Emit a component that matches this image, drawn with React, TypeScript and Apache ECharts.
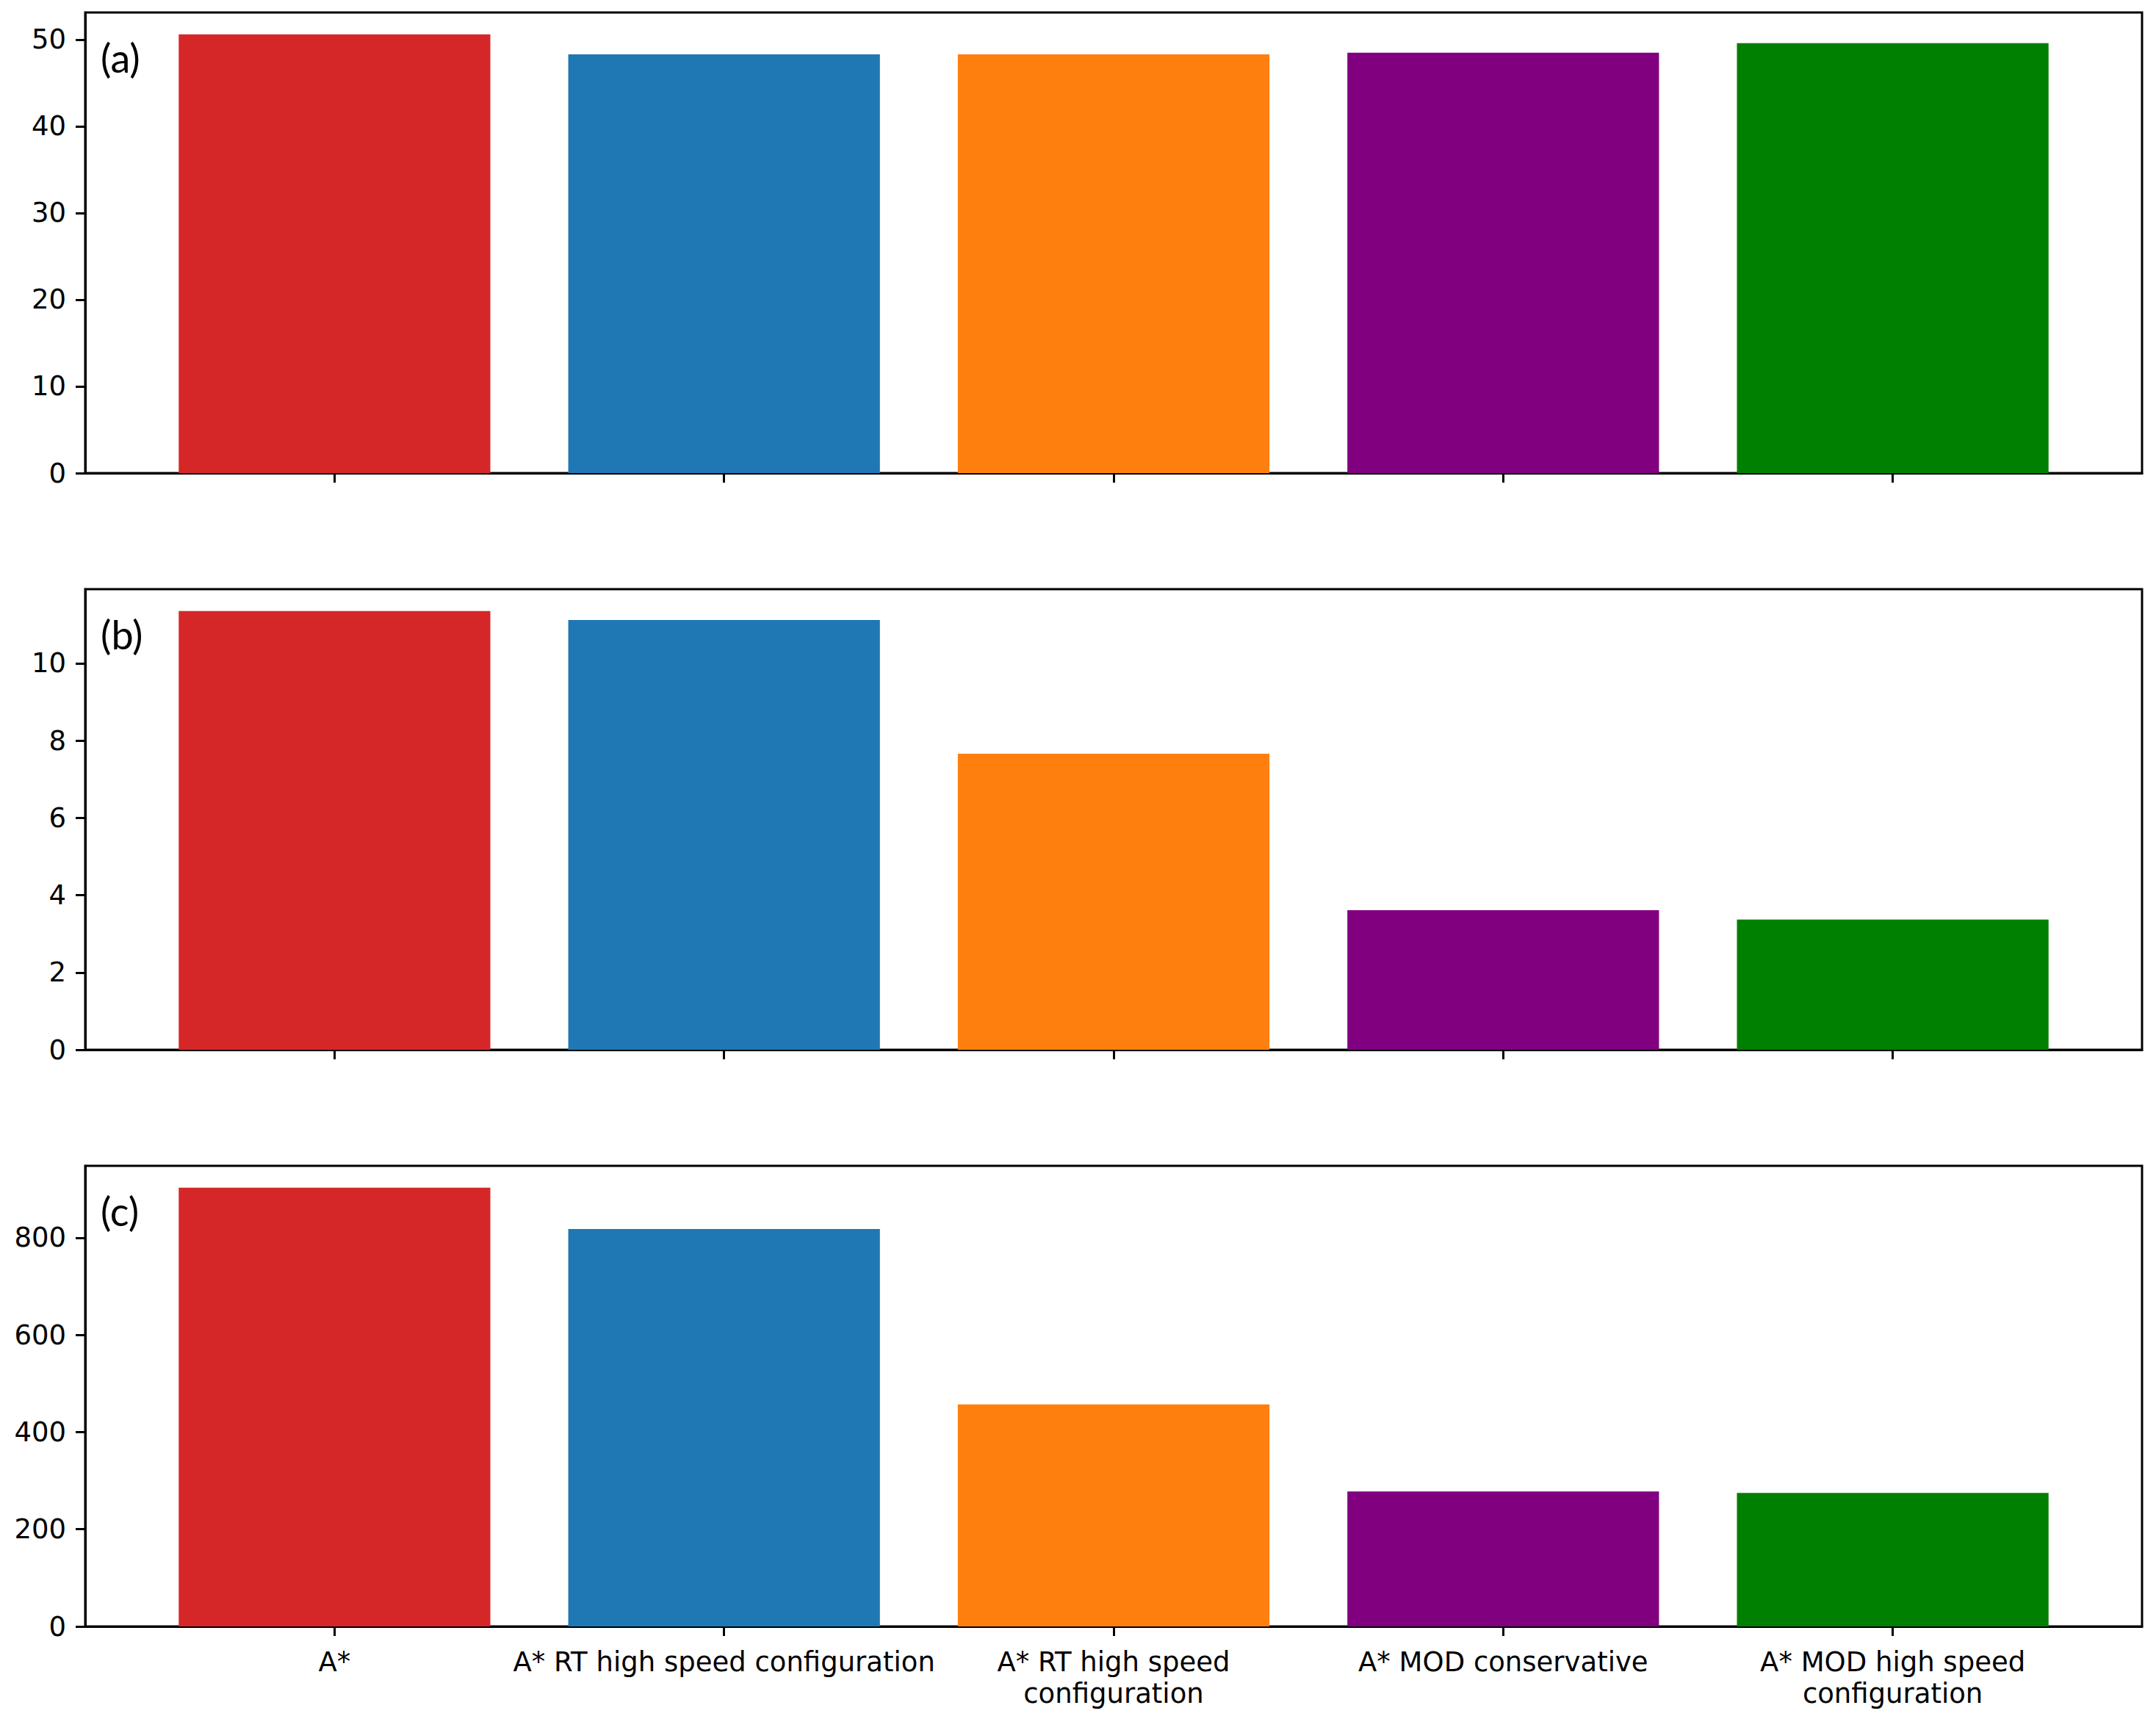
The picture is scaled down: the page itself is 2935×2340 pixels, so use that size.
import React, { useEffect, useRef } from "react";
import * as echarts from "echarts";

const categories = [
  "A*",
  "A* RT high speed configuration",
  "A* RT high speed\nconfiguration",
  "A* MOD conservative",
  "A* MOD high speed\nconfiguration",
];
const barColors = ["#d62728", "#1f77b4", "#ff7f0e", "#800080", "#008000"];

const valuesA = [50.6, 48.3, 48.3, 48.5, 49.6];
const valuesB = [11.35, 11.12, 7.66, 3.61, 3.37];
const valuesC = [903, 818, 457, 278, 275];

const ticksA = [0, 10, 20, 30, 40, 50];
const ticksB = [0, 2, 4, 6, 8, 10];
const ticksC = [0, 200, 400, 600, 800];

const panelLabels = ["(a)", "(b)", "(c)"];

const W = 2935;
const H = 2340;

export default function App() {
  const ref = useRef<HTMLDivElement>(null);
  useEffect(() => {
    if (!ref.current) return;
    const chart = echarts.init(ref.current, null, { renderer: "svg", width: W, height: H });
    const panels = [
      { values: valuesA, ticks: ticksA, top: 17, showLabels: false },
      { values: valuesB, ticks: ticksB, top: 802, showLabels: false },
      { values: valuesC, ticks: ticksC, top: 1587, showLabels: true },
    ];
    const gridLeft = 116;
    const gridWidth = 2800;
    const gridHeight = 627;
    const font = "DejaVu Sans";
    const positions = categories.map((_, i) => i);

    const grids = panels.map((p) => ({
      left: gridLeft,
      top: p.top,
      width: gridWidth,
      height: gridHeight,
      show: true,
      borderColor: "#000",
      borderWidth: 3,
      backgroundColor: "transparent",
    }));
    const xAxes = panels.map((p, i) => ({
      type: "value",
      gridIndex: i,
      min: -0.64,
      max: 4.64,
      splitLine: { show: false },
      axisLine: { show: true, onZero: false, lineStyle: { color: "#000", width: 3 } },
      axisTick: { show: true, length: 13, lineStyle: { color: "#000", width: 3 }, customValues: positions },
      axisLabel: {
        show: p.showLabels,
        customValues: positions,
        formatter: (v: number) => categories[Math.round(v)] ?? "",
        fontFamily: font,
        fontSize: 37,
        lineHeight: 43,
        color: "#000",
        margin: 27,
        align: "center",
        verticalAlign: "top",
      },
    }));
    const yAxes = panels.map((p, i) => ({
      type: "value",
      gridIndex: i,
      min: 0,
      max: Math.max(...p.values) * 1.05,
      splitLine: { show: false },
      axisLine: { show: true, onZero: false, lineStyle: { color: "#000", width: 3 } },
      axisTick: { show: true, length: 13, lineStyle: { color: "#000", width: 3 }, customValues: p.ticks },
      axisLabel: {
        customValues: p.ticks,
        fontFamily: font,
        fontSize: 37,
        color: "#000",
        margin: 26,
      },
    }));
    const series = panels.map((p, i) => ({
      type: "bar",
      xAxisIndex: i,
      yAxisIndex: i,
      barWidth: "80%",
      data: p.values.map((v, j) => ({ value: [positions[j], v], itemStyle: { color: barColors[j] } })),
    }));
    const graphic = panels.map((p, i) => ({
      type: "text",
      left: 137,
      top: p.top + 34,
      z: 100,
      style: {
        text: panelLabels[i],
        fontFamily: "Lato",
        fontSize: 54,
        fill: "#000",
      },
    }));

    chart.setOption({
      animation: false,
      backgroundColor: "#fff",
      grid: grids,
      xAxis: xAxes,
      yAxis: yAxes,
      series,
      graphic,
    } as any);
    return () => chart.dispose();
  }, []);
  return (
    <div
      ref={ref}
      style={{ position: "absolute", left: 0, top: 0, width: W, height: H, background: "#fff" }}
    />
  );
}
